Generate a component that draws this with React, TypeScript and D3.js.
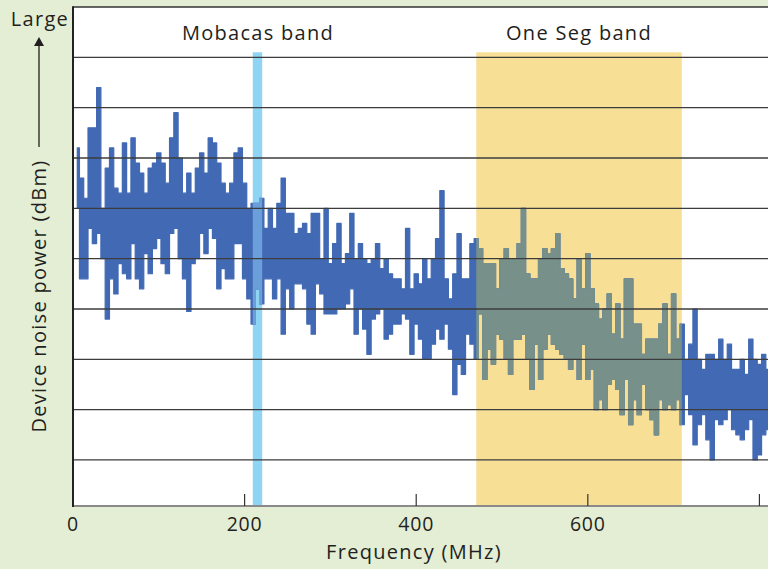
import React, { useEffect, useRef } from 'react';
import * as d3 from 'd3';

// frequency bins (MHz) with upper / lower envelope of the noise trace
const freqs = [
  5, 10, 15, 20, 25, 30, 35, 40, 45, 50, 55, 60, 65, 70, 75, 80, 85, 90, 95, 100,
  105, 110, 115, 120, 125, 130, 135, 140, 145, 150, 155, 160, 165, 170, 175, 180, 185, 190, 195, 200,
  205, 210, 215, 220, 225, 230, 235, 240, 245, 250, 255, 260, 265, 270, 275, 280, 285, 290, 295, 300,
  305, 310, 315, 320, 325, 330, 335, 340, 345, 350, 355, 360, 365, 370, 375, 380, 385, 390, 395, 400,
  405, 410, 415, 420, 425, 430, 435, 440, 445, 450, 455, 460, 465, 470, 475, 480, 485, 490, 495, 500,
  505, 510, 515, 520, 525, 530, 535, 540, 545, 550, 555, 560, 565, 570, 575, 580, 585, 590, 595, 600,
  605, 610, 615, 620, 625, 630, 635, 640, 645, 650, 655, 660, 665, 670, 675, 680, 685, 690, 695, 700,
  705, 710, 715, 720, 725, 730, 735, 740, 745, 750, 755, 760, 765, 770, 775, 780, 785, 790, 795, 800,
  805, 810,
];

const noiseHigh = [
  7.2, 6.6, 6.2, 7.6, 7.6, 8.4, 6.0, 6.8, 7.2, 6.4, 6.3, 7.3, 6.3, 7.4, 6.9, 6.7, 6.3, 6.8, 6.9, 7.1,
  6.9, 6.5, 7.4, 7.9, 7.0, 6.3, 6.7, 6.3, 6.8, 7.1, 6.7, 7.4, 7.3, 6.9, 6.5, 6.3, 6.5, 7.1, 7.2, 6.5,
  6.0, 6.1, 6.1, 6.2, 5.6, 6.0, 5.6, 6.1, 6.6, 5.9, 5.9, 5.5, 5.6, 5.7, 5.5, 5.9, 5.9, 5.0, 6.0, 4.9,
  5.3, 5.7, 4.9, 5.1, 5.9, 5.0, 5.3, 5.0, 4.9, 5.0, 5.3, 4.8, 5.0, 4.7, 4.6, 4.6, 4.4, 5.6, 4.4, 4.7,
  4.5, 5.0, 4.6, 5.0, 5.4, 6.35, 4.6, 4.2, 4.7, 5.5, 4.6, 4.6, 5.3, 5.4, 5.2, 4.9, 4.9, 4.9, 4.4, 5.0,
  5.2, 5.0, 5.0, 5.3, 6.0, 4.7, 4.6, 4.6, 5.0, 5.2, 5.1, 5.2, 5.5, 4.8, 4.7, 4.6, 4.2, 5.0, 4.4, 5.1,
  4.4, 4.1, 3.8, 4.0, 4.3, 3.5, 4.1, 3.4, 4.6, 4.6, 3.7, 3.7, 3.1, 3.4, 3.4, 3.4, 3.7, 4.1, 3.1, 4.3,
  3.4, 3.7, 3.0, 3.3, 4.0, 3.0, 2.8, 3.1, 3.1, 3.0, 3.4, 3.0, 3.3, 2.8, 2.8, 3.0, 2.7, 3.4, 3.0, 2.9,
  3.1, 2.8,
];

const noiseLow = [
  6.0, 4.6, 4.6, 5.6, 5.3, 5.5, 5.0, 3.8, 4.6, 4.3, 4.9, 4.7, 4.6, 5.3, 4.6, 4.4, 5.1, 4.7, 5.2, 5.4,
  4.9, 4.7, 5.5, 5.6, 5.0, 4.6, 3.95, 4.9, 5.0, 5.5, 5.1, 5.6, 5.4, 4.4, 4.8, 4.6, 4.6, 5.3, 5.3, 4.6,
  4.2, 3.7, 4.4, 4.1, 4.6, 4.6, 4.2, 4.6, 3.5, 4.4, 4.0, 4.5, 4.5, 4.4, 3.7, 3.5, 4.5, 4.3, 3.9, 3.9,
  3.9, 4.0, 4.0, 4.1, 4.4, 3.5, 4.0, 3.6, 3.1, 3.8, 3.9, 4.0, 3.4, 3.5, 3.7, 3.7, 3.9, 3.8, 3.1, 3.7,
  3.4, 3.0, 3.0, 3.3, 3.6, 3.4, 3.7, 3.2, 2.3, 2.9, 2.7, 3.5, 3.3, 3.0, 3.9, 2.6, 3.2, 2.9, 3.5, 3.4,
  3.0, 2.7, 3.4, 3.4, 3.5, 3.0, 2.4, 3.3, 2.6, 3.2, 3.5, 3.3, 3.2, 3.1, 3.0, 2.8, 3.0, 2.6, 3.3, 2.6,
  2.8, 2.0, 2.2, 2.0, 2.5, 2.6, 2.4, 1.9, 2.6, 1.7, 2.2, 1.9, 2.5, 2.0, 1.8, 1.5, 2.2, 2.0, 2.1, 2.0,
  2.2, 1.7, 2.3, 1.9, 1.3, 1.7, 1.9, 1.4, 1.0, 1.8, 1.7, 1.8, 2.0, 1.6, 1.5, 1.4, 1.6, 1.8, 1.0, 1.1,
  1.5, 1.6,
];

const bandNames = ['Mobacas band', 'One Seg band'];
const bandStart = [209.5, 470];
const bandEnd = [220.5, 709.5];
const bandFill = ['#8fd4f2', '#f7df96'];
const bandTraceColor = ['#6b9fd9', '#77908a'];

const xTicks = [0, 200, 400, 600, 800];
const xTickLabels = ['0', '200', '400', '600', ''];
const gridValues = [1, 2, 3, 4, 5, 6, 7, 8, 9];

const FONT = "'Open Sans', 'Noto Sans', sans-serif";
const INK = '#231f20';

const NoiseChart = () => {
  const ref = useRef<SVGSVGElement>(null);

  useEffect(() => {
    if (!ref.current) return;
    const svg = d3.select(ref.current);
    svg.selectAll('*').remove();

    const width = 768;
    const height = 569;
    const left = 73;
    const right = 768;
    const top = 7;
    const bottom = 506;

    const x = d3.scaleLinear().domain([0, 810]).range([left, right]);
    const y = d3.scaleLinear().domain([0, 10]).range([510.3, top]);

    svg.append('rect').attr('width', width).attr('height', height).attr('fill', '#e3eed5');
    svg.append('rect')
      .attr('x', left).attr('y', top)
      .attr('width', right - left).attr('height', bottom - top)
      .attr('fill', '#ffffff');

    const defs = svg.append('defs');
    defs.append('clipPath').attr('id', 'plot-clip')
      .append('rect')
      .attr('x', left).attr('y', top)
      .attr('width', right - left).attr('height', bottom - top);

    bandNames.forEach((_, i) => {
      defs.append('clipPath').attr('id', `band-clip-${i}`)
        .append('rect')
        .attr('x', x(bandStart[i])).attr('y', y(9.1))
        .attr('width', x(bandEnd[i]) - x(bandStart[i]))
        .attr('height', bottom - y(9.1));
    });

    // bands
    svg.append('g').selectAll('rect')
      .data(bandNames)
      .join('rect')
      .attr('x', (_, i) => x(bandStart[i]))
      .attr('y', y(9.1))
      .attr('width', (_, i) => x(bandEnd[i]) - x(bandStart[i]))
      .attr('height', bottom - y(9.1))
      .attr('fill', (_, i) => bandFill[i]);

    // noise trace: filled between the low and high envelope, stepped per bin
    const idx = freqs.map((_, i) => i);
    const area = d3.area<number>()
      .curve(d3.curveStep)
      .x(i => x(freqs[i]))
      .y0(i => y(noiseLow[i]))
      .y1(i => y(noiseHigh[i]));

    const drawTrace = (color: string, clip: string) => {
      svg.append('path')
        .datum(idx)
        .attr('clip-path', `url(#${clip})`)
        .attr('fill', color)
        .attr('stroke', color)
        .attr('stroke-width', 1.2)
        .attr('stroke-linejoin', 'round')
        .attr('d', area);
    };
    drawTrace('#4169b4', 'plot-clip');
    bandNames.forEach((_, i) => drawTrace(bandTraceColor[i], `band-clip-${i}`));

    // grid on top
    svg.append('g').selectAll('line')
      .data(gridValues)
      .join('line')
      .attr('x1', left).attr('x2', right)
      .attr('y1', d => y(d)).attr('y2', d => y(d))
      .attr('stroke', '#3c3c3c')
      .attr('stroke-width', 1.3);

    // frame
    svg.append('line')
      .attr('x1', left).attr('x2', right).attr('y1', top).attr('y2', top)
      .attr('stroke', '#333').attr('stroke-width', 1.5);
    svg.append('line')
      .attr('x1', left).attr('x2', right).attr('y1', bottom).attr('y2', bottom)
      .attr('stroke', '#8a8a8a').attr('stroke-width', 2);
    svg.append('line')
      .attr('x1', left).attr('x2', left).attr('y1', top - 0.75).attr('y2', bottom + 1)
      .attr('stroke', '#222').attr('stroke-width', 2);

    // x ticks (inside)
    svg.append('g').selectAll('line')
      .data(xTicks.slice(1))
      .join('line')
      .attr('x1', d => x(d)).attr('x2', d => x(d))
      .attr('y1', bottom - 12).attr('y2', bottom)
      .attr('stroke', '#333').attr('stroke-width', 1.2);

    svg.append('g').selectAll('text')
      .data(xTicks)
      .join('text')
      .attr('x', d => x(d))
      .attr('y', 531)
      .attr('text-anchor', 'middle')
      .attr('font-family', FONT)
      .attr('font-size', 19.5)
      .attr('letter-spacing', 0.8)
      .attr('fill', INK)
      .text((_, i) => xTickLabels[i]);

    const label = (t: string) => svg.append('text')
      .attr('text-anchor', 'middle')
      .attr('font-family', FONT)
      .attr('font-size', 20)
      .attr('letter-spacing', 1.3)
      .attr('fill', INK)
      .text(t);

    label('Frequency (MHz)').attr('x', 414).attr('y', 559);
    label('Device noise power (dBm)').attr('transform', 'translate(46,296) rotate(-90)');
    label('Large').attr('x', 40).attr('y', 26);

    // arrow
    svg.append('line')
      .attr('x1', 39).attr('x2', 39).attr('y1', 147).attr('y2', 44)
      .attr('stroke', INK).attr('stroke-width', 1.3);
    svg.append('path')
      .attr('d', d3.line()([[39, 37], [44, 46], [34, 46]]) + 'Z')
      .attr('fill', INK);

    // band labels
    svg.append('g').selectAll('text')
      .data(bandNames)
      .join('text')
      .attr('x', (_, i) => i === 0 ? 258 : 579)
      .attr('y', 40)
      .attr('text-anchor', 'middle')
      .attr('font-family', FONT)
      .attr('font-size', 20)
      .attr('letter-spacing', 1.3)
      .attr('fill', INK)
      .text(d => d);
  }, []);

  return (
    <svg
      ref={ref}
      width={768}
      height={569}
      style={{ position: 'fixed', left: 0, top: 0, display: 'block' }}
    />
  );
};

export default function App() {
  return <NoiseChart />;
}
